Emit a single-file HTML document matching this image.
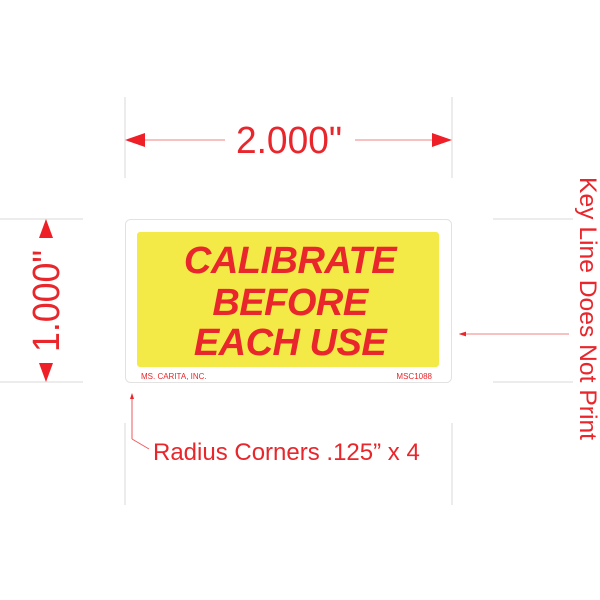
<!DOCTYPE html>
<html><head><meta charset="utf-8"><style>
html,body{margin:0;padding:0;background:#fff;}
svg{display:block;}
text{font-family:"Liberation Sans",sans-serif;fill:#e8262b;}
</style></head><body>
<svg width="600" height="600" viewBox="0 0 600 600">
<defs>
<marker id="sm" markerWidth="6" markerHeight="6" refX="5" refY="3" orient="auto"><path d="M0,1 L6,3 L0,5Z" fill="#e8262b"/></marker>
</defs>
<g stroke="#d8d8d8" stroke-width="1">
<line x1="125" y1="97" x2="125" y2="178"/><line x1="452" y1="97" x2="452" y2="178"/>
<line x1="125" y1="423" x2="125" y2="505"/><line x1="452" y1="423" x2="452" y2="505"/>
<line x1="0" y1="219" x2="83" y2="219"/><line x1="0" y1="382" x2="83" y2="382"/>
<line x1="493" y1="219" x2="573" y2="219"/><line x1="493" y1="382" x2="573" y2="382"/>
</g>
<g stroke="#f29a9c" stroke-width="1.2">
<line x1="140" y1="140" x2="225" y2="140"/><line x1="355" y1="140" x2="438" y2="140"/>
</g>
<path d="M125,140 L145,133 L145,147Z" fill="#ee1f26"/>
<path d="M452,140 L432,133 L432,147Z" fill="#ee1f26"/>
<text x="236" y="153" font-size="38" textLength="106" lengthAdjust="spacingAndGlyphs">2.000"</text>
<path d="M46,219 L39,238 L53,238Z" fill="#ee1f26"/>
<path d="M46,382 L39,363 L53,363Z" fill="#ee1f26"/>
<text transform="translate(59,352) rotate(-90)" font-size="38" textLength="102" lengthAdjust="spacingAndGlyphs">1.000"</text>
<rect x="125.5" y="219.5" width="326" height="163" rx="5" fill="#fff" stroke="#e2e2e2"/>
<rect x="137" y="232" width="302" height="135" rx="3" fill="#f3ea48"/>
<g font-size="38" font-weight="bold" font-style="italic" text-anchor="middle" style="letter-spacing:-0.5px">
<text x="290" y="273">CALIBRATE</text>
<text x="290" y="315">BEFORE</text>
<text x="290" y="355">EACH USE</text>
</g>
<text x="141" y="379" font-size="8">MS. CARITA, INC.</text>
<text x="432" y="379" font-size="8" text-anchor="end">MSC1088</text>
<line x1="569" y1="334" x2="460" y2="334" stroke="#f29a9c" stroke-width="1.2" marker-end="url(#sm)"/>
<text transform="translate(580,177) rotate(90)" font-size="24" textLength="263" lengthAdjust="spacingAndGlyphs">Key Line Does Not Print</text>
<polyline points="132,439 132,394" fill="none" stroke="#ee5a5f" stroke-width="1" marker-end="url(#sm)"/>
<polyline points="132,439 149,449" fill="none" stroke="#ee5a5f" stroke-width="1"/>
<text x="153" y="460" font-size="24">Radius Corners .125” x 4</text>
</svg>
</body></html>
